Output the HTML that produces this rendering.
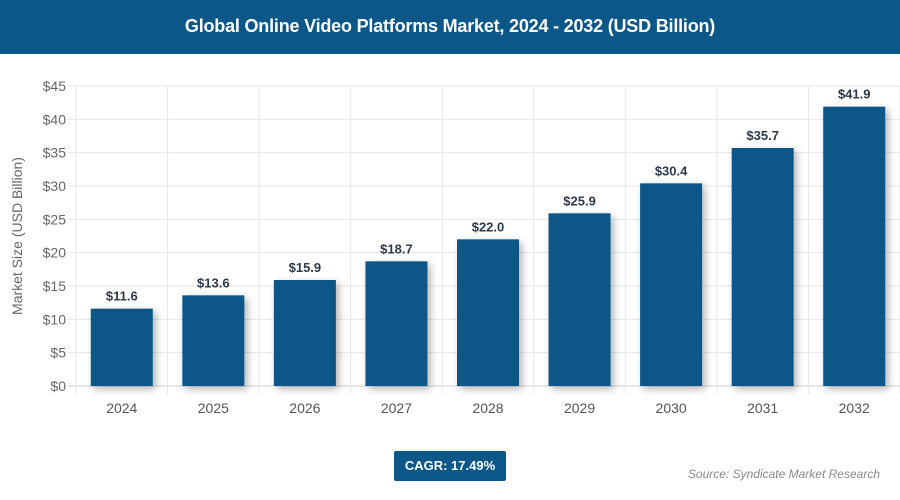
<!DOCTYPE html>
<html><head><meta charset="utf-8"><style>
body{margin:0;width:900px;height:500px;background:#fff;font-family:"Liberation Sans",sans-serif;overflow:hidden;position:relative}
#hdr{position:absolute;left:0;top:0;width:900px;height:54px;background:#0b5788;color:#fff;font-weight:bold;font-size:18px;text-align:center;line-height:52px;letter-spacing:-0.2px}
#cagr{position:absolute;left:394px;top:451px;width:112px;height:30px;background:#0b5788;color:#fff;font-weight:bold;font-size:13px;text-align:center;line-height:29px;border-radius:2px}
#src{position:absolute;right:20px;top:467px;font-size:12px;font-style:italic;color:#888}
</style></head><body>
<div id="hdr">Global Online Video Platforms Market, 2024 - 2032 (USD Billion)</div>
<svg id="chart" width="900" height="500" style="position:absolute;left:0;top:0;top:0"></svg>
<div id="cagr">CAGR: 17.49%</div>
<div id="src">Source: Syndicate Market Research</div>
<script>
const categories=["2024","2025","2026","2027","2028","2029","2030","2031","2032"];
const values=[11.6,13.6,15.9,18.7,22.0,25.9,30.4,35.7,41.9];
const yTicks=[0,5,10,15,20,25,30,35,40,45];
const svg=document.getElementById('chart');
const NS="http://www.w3.org/2000/svg";
const L=76,R=900,T=86,B=386,yMax=45;
const bw=(R-L)/categories.length;
const y=v=>B-(v/yMax)*(B-T);
const x=i=>L+i*bw;
function mk(t,a,txt){const e=document.createElementNS(NS,t);for(const k in a)e.setAttribute(k,a[k]);if(txt!==undefined)e.textContent=txt;svg.appendChild(e);return e;}
const defs=mk('defs',{});
defs.innerHTML='<filter id="sh" x="-30%" y="-10%" width="160%" height="130%"><feDropShadow dx="3" dy="3" stdDeviation="4" flood-color="#000" flood-opacity="0.3"/></filter>';
yTicks.forEach(t=>{
 const g=mk('line',{x1:L-8,x2:R,y1:y(t),y2:y(t),stroke:t===0?'#ccc':'#e6e6e6','stroke-width':1});
 
 const l=mk('text',{x:L-10,y:y(t)+5,'text-anchor':'end','font-size':14,fill:'#666'},'$'+t);
 
});
for(let i=0;i<=categories.length;i++){
 const g=mk('line',{x1:x(i),x2:x(i),y1:T,y2:B+8,stroke:'#e6e6e6','stroke-width':1});
 
}
categories.forEach((c,i)=>{
 const cx=x(i)+bw/2;
 const r=mk('rect',{x:cx-31,y:y(values[i]),width:62,height:B-y(values[i]),fill:'#0b5788',filter:'url(#sh)'});
 
 const v=mk('text',{x:cx,y:y(values[i])-8,'text-anchor':'middle','font-size':13,'font-weight':'bold',fill:'#2b3a4a'},'$'+values[i].toFixed(1));
 
 const l=mk('text',{x:cx,y:B+27,'text-anchor':'middle','font-size':14,fill:'#555'},c);
 
});
const yt=mk('text',{x:0,y:0,transform:'translate(22,236) rotate(-90)','text-anchor':'middle','font-size':14,fill:'#666'},'Market Size (USD Billion)');

</script>
</body></html>
